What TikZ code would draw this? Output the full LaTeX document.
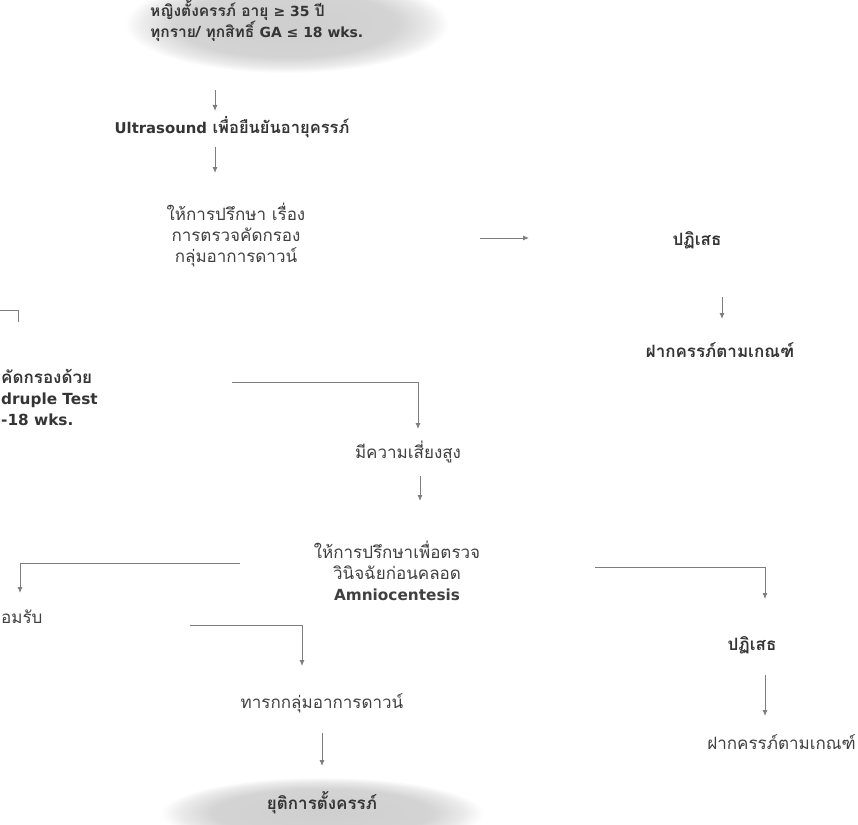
\documentclass[tikz,border=0pt]{standalone}
\usepackage{fontspec}
\setmainfont[Script=Thai]{Loma}
\newfontfamily\symf[Scale=0.9]{DejaVu Sans}
\newfontfamily\lat[Scale=0.9]{DejaVu Sans}
\usetikzlibrary{arrows.meta,shapes.geometric}
\definecolor{txt}{HTML}{404040}
\definecolor{btxt}{HTML}{353535}
\definecolor{ln}{HTML}{7E7E7E}
\pgfdeclareradialshading{fuzz}{\pgfpointorigin}{color(0bp)=(black!19); color(17bp)=(black!17); color(22bp)=(black!8); color(25bp)=(white); color(50bp)=(white)}
\begin{document}
\begin{tikzpicture}[x=1pt,y=-1pt,
  lbl/.style={text=txt,font=\fontsize{17}{21}\selectfont,inner sep=0pt,align=center},
  blbl/.style={lbl,text=btxt,font=\fontsize{17}{21}\selectfont\bfseries},
  blob/.style={ellipse,shade,shading=fuzz,draw=none,inner sep=0pt},
  arr/.style={draw=ln,line width=0.9pt,-{Latex[length=6pt,width=5pt]}},
  plain/.style={draw=ln,line width=0.9pt}]
\useasboundingbox (0,0) rectangle (858,824);
\clip (0,0) rectangle (858,824);
\fill[white] (0,0) rectangle (858,824);
% blobs
\node (topell) [blob,minimum width=325pt,minimum height=98pt] at (287,24) {};
\node (botell) [blob,minimum width=322pt,minimum height=72pt] at (322,813) {};
% texts
\node (toptxt) [blbl,align=left,anchor=west,font=\fontsize{15.5}{19}\selectfont\bfseries] at (150,21) {หญิงตั้งครรภ์ อายุ {\symf ≥ 35} ปี\\ทุกราย/ ทุกสิทธิ์ {\lat GA ≤ 18 wks.}};
\node (us) [blbl,font=\fontsize{16.5}{21}\selectfont\bfseries] at (232,127) {{\lat Ultrasound} เพื่อยืนยันอายุครรภ์};
\node (couns) [lbl] at (236,235) {ให้การปรึกษา เรื่อง\\การตรวจคัดกรอง\\กลุ่มอาการดาวน์};
\node (rej1) [blbl] at (697,240) {ปฏิเสธ};
\node (anc1) [blbl] at (720,350) {ฝากครรภ์ตามเกณฑ์};
\node (qtest) [blbl,align=left,anchor=west] at (1,397) {คัดกรองด้วย\\{\lat druple Test}\\{\lat -18 wks.}};
\node (risk) [lbl] at (408,452) {มีความเสี่ยงสูง};
\node (couns2) [lbl] at (397,571) {ให้การปรึกษาเพื่อตรวจ\\วินิจฉัยก่อนคลอด\\{\lat\bfseries Amniocentesis}};
\node (acc) [lbl,anchor=west] at (1,617) {อมรับ};
\node (rej2) [blbl] at (752,645) {ปฏิเสธ};
\node (anc2) [lbl,anchor=east] at (856,742) {ฝากครรภ์ตามเกณฑ์};
\node (down) [lbl] at (322,703) {ทารกกลุ่มอาการดาวน์};
\node (stop) [blbl] at (322,803) {ยุติการตั้งครรภ์};
% connector ends
\coordinate (a1s) at (215,90);  \coordinate (a1e) at (215,111);
\coordinate (a2s) at (215,147); \coordinate (a2e) at (215,173);
\coordinate (a3s) at (480,238); \coordinate (a3e) at (529,238);
\coordinate (a4s) at (722,297); \coordinate (a4e) at (722,319);
\coordinate (b0) at (0,310); \coordinate (b1) at (18,310); \coordinate (b2) at (18,322);
\coordinate (q0) at (232,382); \coordinate (q1) at (418,382); \coordinate (q2) at (418,429);
\coordinate (a7s) at (420,476); \coordinate (a7e) at (420,501);
\coordinate (l0) at (240,563); \coordinate (l1) at (20,563); \coordinate (l2) at (20,593);
\coordinate (m0) at (190,625); \coordinate (m1) at (302,625); \coordinate (m2) at (302,666);
\coordinate (r0) at (595,567); \coordinate (r1) at (765,567); \coordinate (r2) at (765,599);
\coordinate (a11s) at (765,675); \coordinate (a11e) at (765,716);
\coordinate (a12s) at (322,733); \coordinate (a12e) at (322,766);
% connectors
\draw[arr] (a1s) -- (a1e);
\draw[arr] (a2s) -- (a2e);
\draw[arr] (a3s) -- (a3e);
\draw[arr] (a4s) -- (a4e);
\draw[plain] (b0) -- (b1) -- (b2);
\draw[arr] (q0) -- (q1) -- (q2);
\draw[arr] (a7s) -- (a7e);
\draw[arr] (l0) -- (l1) -- (l2);
\draw[arr] (m0) -- (m1) -- (m2);
\draw[arr] (r0) -- (r1) -- (r2);
\draw[arr] (a11s) -- (a11e);
\draw[arr] (a12s) -- (a12e);
\end{tikzpicture}
\end{document}
